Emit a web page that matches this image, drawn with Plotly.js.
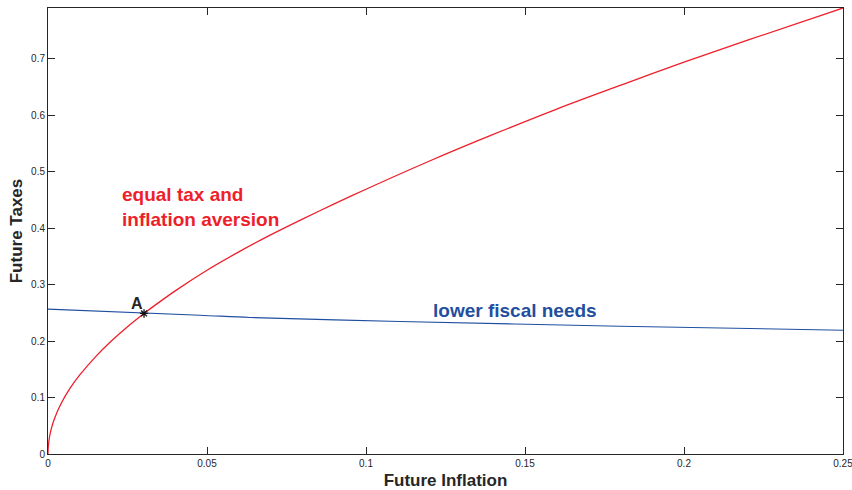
<!DOCTYPE html>
<html>
<head>
<meta charset="utf-8">
<script src="https://cdn.plot.ly/plotly-3.0.1.min.js"></script>
<style>html,body{margin:0;padding:0;background:#fff;}#chart{width:852px;height:490px;}</style>
</head>
<body>
<div id="chart"></div>
<script>
// Red curve: equal tax and inflation aversion
const redX = [0, 0.00002, 0.0001, 0.0003, 0.0005, 0.001, 0.002, 0.004, 0.007, 0.01, 0.015, 0.02, 0.025, 0.0302, 0.035, 0.04, 0.05, 0.06, 0.07, 0.08, 0.09, 0.1, 0.12, 0.14, 0.16, 0.18, 0.2, 0.22, 0.25];
const redY = [0, 0.006, 0.014, 0.0235, 0.031, 0.044, 0.062, 0.088, 0.117, 0.140, 0.1725, 0.2005, 0.2255, 0.249, 0.269, 0.289, 0.3255, 0.358, 0.388, 0.416, 0.443, 0.469, 0.519, 0.566, 0.611, 0.653, 0.694, 0.733, 0.79];
// Blue curve: lower fiscal needs
const blueX = [0, 0.0478, 0.0635, 0.1106, 0.1799, 0.25];
const blueY = [0.2566, 0.2459, 0.2418, 0.2348, 0.2264, 0.2193];
// Intersection point A
const pointX = [0.0302];
const pointY = [0.249];
const xTicks = [0, 0.05, 0.1, 0.15, 0.2, 0.25];
const xTickText = ["0", "0.05", "0.1", "0.15", "0.2", "0.25"];
const yTicks = [0, 0.1, 0.2, 0.3, 0.4, 0.5, 0.6, 0.7];
const yTickText = ["0", "0.1", "0.2", "0.3", "0.4", "0.5", "0.6", "0.7"];

const FONT = "Liberation Sans, Arial, Helvetica, sans-serif";

const traces = [
  {x: redX, y: redY, mode: "lines", line: {color: "#ee1f2b", width: 1.3, shape: "spline", smoothing: 0.8}, hoverinfo: "skip"},
  {x: blueX, y: blueY, mode: "lines", line: {color: "#1f4fa0", width: 1.1, shape: "spline", smoothing: 0.8}, hoverinfo: "skip"},
  {x: pointX, y: pointY, mode: "markers", marker: {symbol: "asterisk-open", size: 7, color: "#111", line: {color: "#111", width: 1.3}}, hoverinfo: "skip"}
];

const axisCommon = {
  showgrid: false, zeroline: false, showline: true, linecolor: "#262626", linewidth: 1,
  mirror: "ticks", ticks: "inside", ticklen: 7, tickcolor: "#262626", tickwidth: 1,
  ticklabeloverflow: "allow",
  tickfont: {family: FONT, size: 10, color: "#262626"}
};

const layout = {
  width: 852, height: 490,
  margin: {l: 48, r: 9, t: 8, b: 36},
  paper_bgcolor: "#fff", plot_bgcolor: "#fff",
  showlegend: false,
  xaxis: Object.assign({}, axisCommon, {
    range: [0, 0.25], tickvals: xTicks, ticktext: xTickText,
    title: {text: "<b>Future Inflation</b>", font: {family: FONT, size: 17, color: "#262626"}, standoff: 6}
  }),
  yaxis: Object.assign({}, axisCommon, {
    range: [0, 0.79], tickvals: yTicks, ticktext: yTickText,
    title: {text: "<b>Future Taxes</b>", font: {family: FONT, size: 17, color: "#262626"}, standoff: 4}
  }),
  annotations: [
    {x: 0.0226, y: 0.437, xref: "x", yref: "y", xanchor: "left", yanchor: "middle", showarrow: false, align: "left",
     text: "<b>equal tax and<br>inflation aversion</b>", font: {family: FONT, size: 19, color: "#ee1f2b"}},
    {x: 0.1203, y: 0.2545, xref: "x", yref: "y", xanchor: "left", yanchor: "middle", showarrow: false,
     text: "<b>lower fiscal needs</b>", font: {family: FONT, size: 19, color: "#1f4fa0"}},
    {x: 0.0254, y: 0.2663, xref: "x", yref: "y", xanchor: "left", yanchor: "middle", showarrow: false,
     text: "<b>A</b>", font: {family: FONT, size: 16, color: "#262626"}}
  ]
};

Plotly.newPlot("chart", traces, layout, {staticPlot: true, displayModeBar: false});
</script>
</body>
</html>
